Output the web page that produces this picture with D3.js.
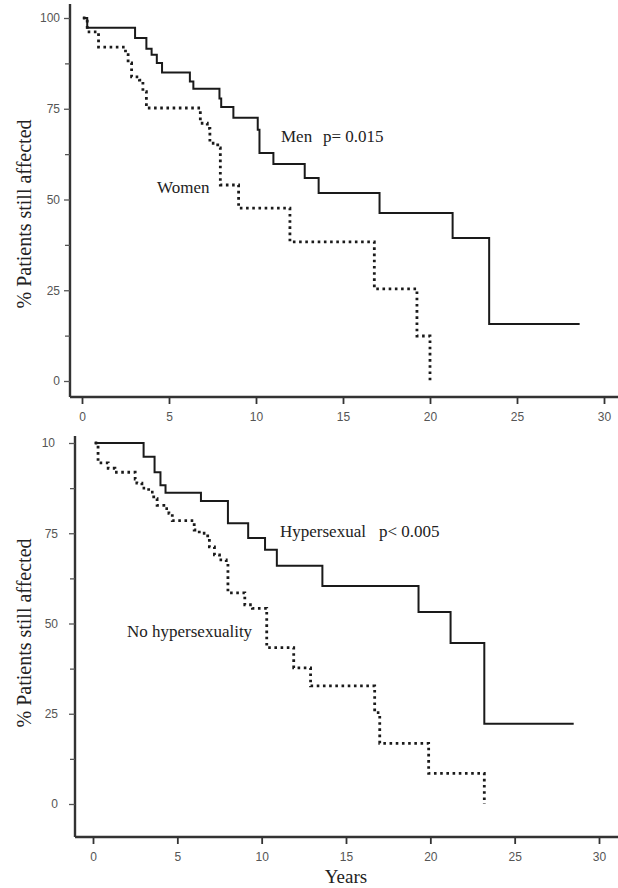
<!DOCTYPE html>
<html>
<head>
<meta charset="utf-8">
<script src="https://cdn.jsdelivr.net/npm/d3@7"></script>
<style>
  body { margin: 0; background: #fff; }
  .tick text { font-family: "Liberation Sans", Arial, sans-serif; font-size: 12px; fill: #555; }
  .lbl { font-family: "Liberation Serif", "Times New Roman", serif; fill: #222; }
</style>
</head>
<body>
<div id="chart"></div>
<script>
// Kaplan-Meier steps: drop times (years) and % still affected after each drop
const menStart = 0.05, menEnd = 28.6;
const menTimes = [0.3, 3.05, 3.7, 4.0, 4.3, 4.6, 6.2, 6.4, 7.9, 8.0, 8.7, 10.1, 10.2, 11.0, 12.8, 13.6, 17.1, 21.3, 23.4];
const menSurv  = [97.3, 94.5, 91.5, 89.9, 87.6, 85.0, 82.5, 80.5, 77.8, 75.5, 72.5, 69.2, 62.8, 59.8, 55.9, 51.8, 46.3, 39.4, 15.7];

const womenStart = 0.05, womenEnd = 20.0;
const womenTimes = [0.3, 0.95, 2.5, 2.65, 2.85, 3.3, 3.5, 3.7, 6.8, 7.2, 7.35, 7.8, 7.95, 9.0, 11.95, 16.8, 19.25, 20.0];
const womenSurv  = [96.2, 92.0, 89.9, 87.6, 83.8, 82.9, 79.7, 75.2, 71.0, 69.6, 65.5, 64.2, 54.0, 47.6, 38.3, 25.4, 12.4, 0];

const hyperStart = 0.1, hyperEnd = 28.5;
const hyperTimes = [3.0, 3.65, 4.0, 4.3, 6.4, 8.0, 9.2, 10.2, 10.9, 13.6, 19.3, 21.2, 23.2];
const hyperSurv  = [96.2, 91.9, 88.3, 86.2, 83.9, 77.8, 73.7, 70.4, 66.0, 60.4, 53.2, 44.6, 22.2];

const noHyperStart = 0.1, noHyperEnd = 23.2;
const noHyperTimes = [0.3, 0.9, 1.3, 2.5, 2.6, 2.9, 3.3, 3.6, 3.8, 4.2, 4.5, 4.7, 6.0, 6.3, 6.8, 6.9, 7.2, 7.5, 7.9, 8.0, 9.0, 9.45, 10.3, 11.9, 12.9, 16.7, 17.0, 19.9, 23.2];
const noHyperSurv  = [94.5, 93.0, 91.9, 90.0, 88.9, 87.5, 86.4, 84.6, 82.7, 81.8, 80.5, 78.5, 75.9, 75.0, 73.7, 71.2, 69.0, 67.6, 66.8, 58.5, 55.2, 54.2, 43.3, 37.7, 32.7, 25.3, 16.8, 8.5, 0];

const xTicks = [0, 5, 10, 15, 20, 25, 30];
const yTicks = [0, 25, 50, 75, 100];
const yMinor = [12.5, 37.5, 62.5, 87.5];
const topYLabels = ["0", "25", "50", "75", "100"];
const botYLabels = ["0", "25", "50", "75", "10"];

const width = 618, height = 888;
const svg = d3.select("#chart").append("svg")
    .attr("width", width).attr("height", height);

function steps(start, end, times, surv) {
    var pts = [[start, 100]];
    times.forEach((t, i) => pts.push([t, surv[i]]));
    if (end > times[times.length - 1]) pts.push([end, surv[surv.length - 1]]);
    return pts;
}

function panel(opt) {
    const g = svg.append("g");
    const x = d3.scaleLinear().domain([0, 30]).range(opt.xr);
    const y = d3.scaleLinear().domain([0, 100]).range(opt.yr);

    // frame lines
    g.append("line").attr("x1", opt.left).attr("x2", opt.left)
        .attr("y1", opt.top).attr("y2", opt.bottom)
        .attr("stroke", "#333").attr("stroke-width", 2.4);
    g.append("line").attr("x1", opt.left).attr("x2", width)
        .attr("y1", opt.bottom).attr("y2", opt.bottom)
        .attr("stroke", "#333").attr("stroke-width", 2.4);

    const ya = g.append("g").attr("transform", `translate(${opt.left},0)`)
        .call(d3.axisLeft(y).tickValues(yTicks).tickSize(6).tickPadding(opt.ypad)
            .tickFormat((d, i) => opt.yLabels[i]));
    ya.select(".domain").remove();
    ya.selectAll(".tick line").attr("stroke", "#555").attr("stroke-width", 1.3);
    if (opt.fix100) ya.selectAll(".tick").filter(d => d === 100).select("text").attr("x", -20);

    const ym = g.append("g").attr("transform", `translate(${opt.left},0)`)
        .call(d3.axisLeft(y).tickValues(yMinor).tickSize(5).tickFormat(""));
    ym.select(".domain").remove();
    ym.selectAll(".tick line").attr("stroke", "#555").attr("stroke-width", 1.3);

    const xa = g.append("g").attr("transform", `translate(0,${opt.bottom})`)
        .call(d3.axisBottom(x).tickValues(xTicks).tickSize(7).tickPadding(8));
    xa.select(".domain").remove();
    xa.selectAll(".tick line").attr("stroke", "#333").attr("stroke-width", 1.8);

    const line = d3.line().x(d => x(d[0])).y(d => y(d[1])).curve(d3.curveStepAfter);

    opt.curves.forEach(c => {
        g.append("path").datum(c.pts)
            .attr("d", line)
            .attr("fill", "none")
            .attr("stroke", "#1a1a1a")
            .attr("stroke-width", c.dotted ? 2.8 : 2)
            .attr("stroke-dasharray", c.dotted ? "2.6,3.6" : null);
    });

    g.append("text").attr("class", "lbl")
        .attr("transform", `translate(31,${opt.ylabY}) rotate(-90)`)
        .attr("text-anchor", "middle").style("font-size", "20px")
        .text("% Patients still affected");

    opt.texts.forEach(t => {
        g.append("text").attr("class", "lbl")
            .attr("x", t.x).attr("y", t.y).style("font-size", "17px")
            .text(t.s);
    });
    return { g, x, y };
}

panel({
    xr: [82, 604], yr: [381, 18], left: 70, top: 4, bottom: 397, ypad: 4,
    yLabels: topYLabels, ylabY: 214,
    curves: [
        { pts: steps(menStart, menEnd, menTimes, menSurv), dotted: false },
        { pts: steps(womenStart, womenEnd, womenTimes, womenSurv), dotted: true }
    ],
    texts: [
        { x: 281, y: 142, s: "Men" },
        { x: 323, y: 142, s: "p= 0.015" },
        { x: 157, y: 193, s: "Women" }
    ]
});

const bot = panel({
    xr: [93, 599], yr: [804, 443], left: 75, top: 436, bottom: 837, ypad: 11,
    yLabels: botYLabels, ylabY: 633, fix100: true,
    curves: [
        { pts: steps(hyperStart, hyperEnd, hyperTimes, hyperSurv), dotted: false },
        { pts: steps(noHyperStart, noHyperEnd, noHyperTimes, noHyperSurv), dotted: true }
    ],
    texts: [
        { x: 280, y: 537, s: "Hypersexual" },
        { x: 379, y: 537, s: "p< 0.005" },
        { x: 127, y: 637, s: "No hypersexuality" }
    ]
});

bot.g.append("text").attr("class", "lbl")
    .attr("x", bot.x(15)).attr("y", 883)
    .attr("text-anchor", "middle").style("font-size", "19px")
    .text("Years");
</script>
</body>
</html>
